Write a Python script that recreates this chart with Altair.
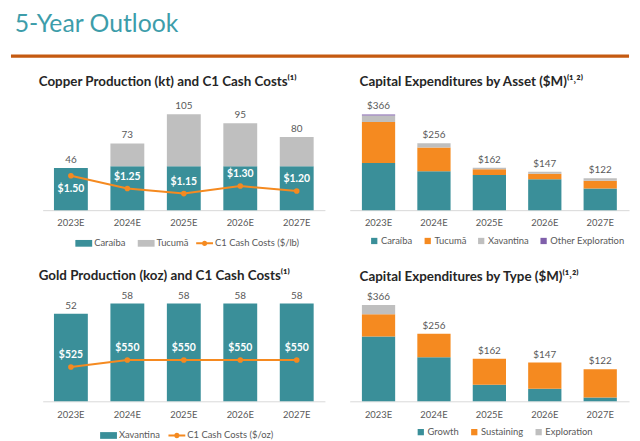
import altair as alt
import pandas as pd

# ---------------- data ----------------
years = ["2023E", "2024E", "2025E", "2026E", "2027E"]

copper_series = ["Caraíba", "Tucumã"]
copper_caraiba = [46, 48, 48, 48, 48]
copper_tucuma = [0, 25, 57, 47, 32]
copper_total = [46, 73, 105, 95, 80]
copper_c1 = [1.50, 1.25, 1.15, 1.30, 1.20]
copper_c1_name = "C1 Cash Costs ($/lb)"

gold_series = ["Xavantina"]
gold_xavantina = [52, 58, 58, 58, 58]
gold_total = [52, 58, 58, 58, 58]
gold_c1 = [525, 550, 550, 550, 550]
gold_c1_name = "C1 Cash Costs ($/oz)"

asset_series = ["Caraíba", "Tucumã", "Xavantina", "Other Exploration"]
asset_caraiba = [180, 149, 134, 118, 83]
asset_tucuma = [157, 91, 22, 21, 29]
asset_xavantina = [25, 16, 6, 8, 10]
asset_other = [4, 0, 0, 0, 0]
capex_total = [366, 256, 162, 147, 122]

type_series = ["Growth", "Sustaining", "Exploration"]
type_growth = [246, 167, 63, 48, 14]
type_sustaining = [84, 89, 99, 99, 108]
type_exploration = [36, 0, 0, 0, 0]

# ---------------- style ----------------
FONT = "Lato"
TEAL = "#3A8F99"
ORANGE = "#F58A20"
GREY = "#BFBFBF"
PURPLE = "#7F5FAA"
TXT = "#595959"
TITLE_TXT = "#262626"
HEAD = "#3D9DAA"
RULE = "#C55A11"

WIDE_SYM = "M-1,-0.4H1V0.4H-1Z"
LINE_SYM = "M-1,-0.12H1V0.12H-1Z M0.32,0A0.32,0.32,0,1,1,-0.32,0A0.32,0.32,0,1,1,0.32,0Z"
SQ_SYM = "square"


def long_df(names, values):
    rows = []
    for i, (n, vals) in enumerate(zip(names, values)):
        for y, v in zip(years, vals):
            rows.append({"year": y, "series": n, "value": v, "idx": i})
    return pd.DataFrame(rows)


def xenc(po):
    return alt.X(
        "year:N", sort=years, title=None,
        scale=alt.Scale(paddingInner=0.4, paddingOuter=po),
        axis=alt.Axis(labelAngle=0, labelColor=TXT, labelFontSize=9.5, labelFont=FONT,
                      labelPadding=8, ticks=False, domainColor="#D9D9D9", domainWidth=1,
                      grid=False),
    )


def legend(x, y, sym, size, pad):
    return alt.Legend(orient="none", legendX=x, legendY=y, direction="horizontal", title=None,
                      symbolType=sym, symbolSize=size, symbolStrokeWidth=0,
                      labelFontSize=9.5, labelColor=TXT, labelFont=FONT,
                      columnPadding=pad, labelOffset=2)


def bar_layer(df, names, colors, totals, ymax, po, fmt, lx, ly, sym, size, pad):
    x = xenc(po)
    ys = alt.Scale(domain=[0, ymax])
    bars = alt.Chart(df).mark_bar().encode(
        x=x,
        y=alt.Y("value:Q", stack="zero", scale=ys, axis=None),
        color=alt.Color("series:N", scale=alt.Scale(domain=names, range=colors),
                        legend=legend(lx, ly, sym, size, pad)),
        order=alt.Order("idx:Q"),
    )
    tdf = pd.DataFrame({"year": years, "total": totals})
    tot = alt.Chart(tdf).mark_text(baseline="alphabetic", dy=-5, fontSize=10, color=TXT,
                                   font=FONT).encode(
        x=x, y=alt.Y("total:Q", scale=ys, axis=None),
        text=alt.Text("total:Q", format=fmt),
    )
    return alt.layer(bars, tot)


def line_layer(c1, name, lo, hi, po, fmt, lx, ly, split):
    x = xenc(po)
    ldf = pd.DataFrame({"year": years, "c1": c1, "metric": [name] * len(years)})
    ys = alt.Scale(domain=[lo, hi], zero=False)
    y = alt.Y("c1:Q", scale=ys, axis=None)
    line = alt.Chart(ldf).mark_line(color=ORANGE, strokeWidth=2).encode(x=x, y=y)
    pts = alt.Chart(ldf).mark_circle(size=32, opacity=1).encode(
        x=x, y=y,
        color=alt.Color("metric:N", scale=alt.Scale(domain=[name], range=[ORANGE]),
                        legend=legend(lx, ly, LINE_SYM, 289, 12)),
    )
    txt_kw = dict(color="white", fontWeight="bold", fontSize=10.5, font=FONT, baseline="middle")
    if split:
        lab1 = alt.Chart(ldf).transform_filter(alt.datum.year == years[0]).mark_text(
            dy=13, **txt_kw).encode(x=x, y=y, text=alt.Text("c1:Q", format=fmt))
        lab2 = alt.Chart(ldf).transform_filter(alt.datum.year != years[0]).mark_text(
            dy=-12, **txt_kw).encode(x=x, y=y, text=alt.Text("c1:Q", format=fmt))
        return alt.layer(line, pts, lab1, lab2)
    lab = alt.Chart(ldf).mark_text(dy=-12, **txt_kw).encode(
        x=x, y=y, text=alt.Text("c1:Q", format=fmt))
    return alt.layer(line, pts, lab)


def ptitle(text, dx, offset):
    return alt.TitleParams(text=text, anchor="start", frame="group", dx=dx, offset=offset,
                           fontSize=13.5, fontWeight="bold", font=FONT, color=TITLE_TXT)


W_L, W_R, H = 285, 282, 108

# Copper
cu_df = long_df(copper_series, [copper_caraiba, copper_tucuma])
cu_bars = bar_layer(cu_df, copper_series, [TEAL, GREY], copper_total, 117, 0.2, "d",
                    33, 133, WIDE_SYM, 289, 12)
cu_line = line_layer(copper_c1, copper_c1_name, 0.825, 2.926, 0.2, "$.2f", 155, 133, True)
rule = alt.Chart(pd.DataFrame({"k": [0]})).mark_rule(color=RULE, strokeWidth=3.5).encode(
    x=alt.value(-32), x2=alt.value(592), y=alt.value(-47.5))
p1 = alt.layer(rule, cu_bars, cu_line).resolve_scale(y="independent", color="independent").properties(
    width=W_L, height=H,
    title=ptitle("Copper Production (kt) and C1 Cash Costs⁽¹⁾", -4, -34))

# Capex by asset
as_df = long_df(asset_series, [asset_caraiba, asset_tucuma, asset_xavantina, asset_other])
p2 = bar_layer(as_df, asset_series, [TEAL, ORANGE, GREY, PURPLE], capex_total, 409, 0.22, "$d",
               20, 134, SQ_SYM, 40, 10).properties(
    width=W_R, height=H,
    title=ptitle("Capital Expenditures by Asset ($M)⁽¹˒²⁾", 10, 13))

# Gold
au_df = long_df(gold_series, [gold_xavantina])
au_bars = bar_layer(au_df, gold_series, [TEAL], gold_total, 63.5, 0.2, "d",
                    58, 134, WIDE_SYM, 289, 12)
au_line = line_layer(gold_c1, gold_c1_name, 401, 787, 0.2, "$.0f", 127, 134, False)
p3 = alt.layer(au_bars, au_line).resolve_scale(y="independent", color="independent").properties(
    width=W_L, height=H,
    title=ptitle("Gold Production (koz) and C1 Cash Costs⁽¹⁾", -4, 8))

# Capex by type
ty_df = long_df(type_series, [type_growth, type_sustaining, type_exploration])
p4 = bar_layer(ty_df, type_series, [TEAL, ORANGE, GREY], capex_total, 406, 0.22, "$d",
               67, 134, SQ_SYM, 40, 10).properties(
    width=W_R, height=H,
    title=ptitle("Capital Expenditures by Type ($M)⁽¹˒²⁾", 10, 9))

chart = alt.concat(
    p1, p2, p3, p4, columns=2, spacing={"row": 85, "column": 25}, bounds="flush",
    title=alt.TitleParams("5-Year Outlook", anchor="start", frame="bounds", dx=6, offset=17,
                          fontSize=25, font=FONT, fontWeight="normal", color=HEAD),
).resolve_scale(color="independent").properties(
    padding={"left": 0, "top": 2, "right": 0, "bottom": 0}
).configure_view(stroke="transparent")

chart.save("out.html", embed_options={"renderer": "svg", "actions": False})
